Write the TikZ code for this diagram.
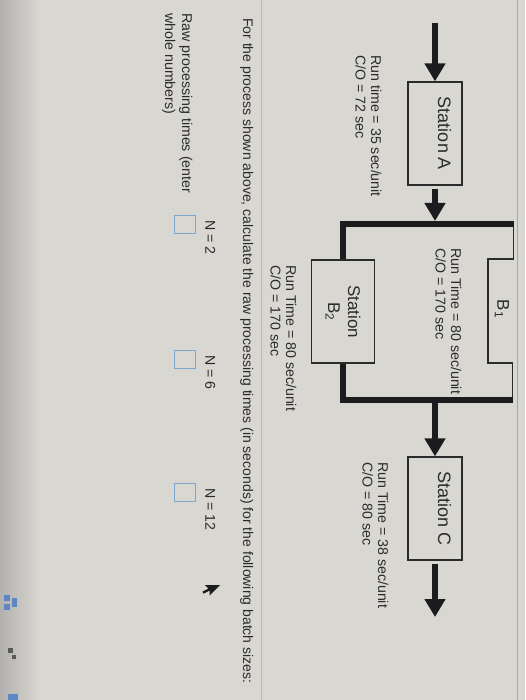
\documentclass[tikz,border=0pt]{standalone}
\usepackage{fontspec}
\setmainfont{Liberation Sans}
\usetikzlibrary{arrows.meta}
\definecolor{paper}{HTML}{D8D7D2}
\definecolor{bezel}{HTML}{B2B1AF}
\definecolor{ink}{HTML}{2B2B2B}
\definecolor{flowink}{HTML}{1C1C1E}
\definecolor{rulegray}{HTML}{A7A6A3}
\definecolor{inputblue}{HTML}{7FA6CF}
\definecolor{iconblue}{HTML}{5D86C4}

\begin{document}
\begin{tikzpicture}[
  x=1pt, y=1pt,
  stationbox/.style={draw=ink, line width=1.2pt, minimum width=103pt, minimum height=54pt, inner sep=0pt, font=\fontsize{18}{20}\selectfont, text=ink},
  infolabel/.style={anchor=north west, align=left, inner sep=0pt, font=\fontsize{14.2}{15.5}\selectfont, text=ink},
  flow/.style={draw=flowink, line width=6pt, -{Triangle[width=20pt, length=18pt]}},
  bar/.style={draw=flowink, line width=6pt, line join=miter},
  link/.style={draw=ink, line width=1.2pt},
  answerbox/.style={draw=inputblue, line width=0.9pt, minimum width=18pt, minimum height=21pt, inner sep=0pt},
]
\useasboundingbox (0,0) rectangle (525,-700);

% background of the photographed screen
\fill[paper] (0,0) rectangle (525,-700);
\shade[left color=bezel, right color=paper] (0,0) rectangle (40,-700);
\draw[rulegray, line width=0.8pt] (517,0) -- (517,-700);
\draw[rulegray!60!paper, line width=0.6pt] (261,0) -- (261,-700);

% side bar icons
\fill[iconblue] (4,-595) rectangle (10,-601);
\fill[iconblue] (4,-604) rectangle (10,-610);
\fill[iconblue] (12,-598) rectangle (17,-607);
\fill[gray!70!black] (8,-648) rectangle (13,-653);
\fill[gray!70!black] (12,-655) rectangle (16,-659);
\fill[iconblue] (8,-694) rectangle (18,-700);

\begin{scope}[rotate=-90, transform shape]

% stations
\node[stationbox, text height=13pt, text depth=19pt] (stA) at (133.5,435) {Station A};
\node[stationbox, minimum height=63pt, align=center, font=\fontsize{17}{20}\selectfont] (stB2) at (311.5,343) {Station\\B\textsubscript{2}};
\node[stationbox, text height=13pt, text depth=19pt] (stC) at (508.5,435) {Station C};
\node[font=\fontsize{17}{20}\selectfont, text=ink, inner sep=0pt] (stB1) at (309,502) {B\textsubscript{1}};

% junction points
\coordinate (inA) at (23,435);
\coordinate (splitA) at (221,435);
\coordinate (splitTop) at (224,513.5);
\coordinate (splitBot) at (224,343);
\coordinate (mergeBot) at (400,343);
\coordinate (mergeTop) at (400,512.5);
\coordinate (mergeC) at (400,435);
\coordinate (outC) at (617,435);
\coordinate (b1a) at (259,513.5);
\coordinate (b1b) at (259,488);
\coordinate (b1c) at (363,488);
\coordinate (b1d) at (363,512.5);

% upper branch (cut off at the panel edge)
\draw[link] (splitTop) -- (b1a) -- (b1b) -- (b1c) -- (b1d) -- (mergeTop);

% flow
\draw[flow] (inA) -- (stA.west);
\draw[flow, shorten <=3pt] (stA.east) -- (splitA);
\draw[bar] (splitTop) -- (splitBot) -- (stB2.west);
\draw[bar] (stB2.east) -- (mergeBot) -- (mergeTop);
\draw[flow] (mergeC) -- (stC.west);
\draw[flow, shorten <=3pt] (stC.east) -- (outC);

% station data
\node[infolabel] (infoA) at (55,381.5) {Run time = 35 sec/unit\\C/O = 72 sec};
\node[infolabel] (infoB1) at (248,461.5) {Run Time = 80 sec/unit\\C/O = 170 sec};
\node[infolabel] (infoB2) at (265,296.5) {Run Time = 80 sec/unit\\C/O = 170 sec};
\node[infolabel] (infoC) at (462,388.5) {Run Time = 38 sec/unit\\C/O = 80 sec};

% question
\node[infolabel, font=\fontsize{14}{15.5}\selectfont] (question) at (18,253.5) {For the process shown above, calculate the raw processing times (in seconds) for the following batch sizes:};
\node[infolabel, font=\fontsize{14.2}{16.8}\selectfont] (rawlbl) at (13,192.5) {Raw processing times (enter\\whole numbers)};

% batch sizes and answer boxes
\foreach \n/\u in {2/220, 6/355, 12/488} {
  \node[infolabel] (N\n) at (\u,215.5) {N = \n};
  \node[answerbox] (ans\n) at (\u+4,185) {};
}

% mouse pointer
\fill[flowink] (585,220) -- ++(0,-15) -- ++(3.5,3.5) -- ++(3,-6) -- ++(2.2,1) -- ++(-3,6) -- ++(5,0) -- cycle;

\end{scope}
\end{tikzpicture}
\end{document}
